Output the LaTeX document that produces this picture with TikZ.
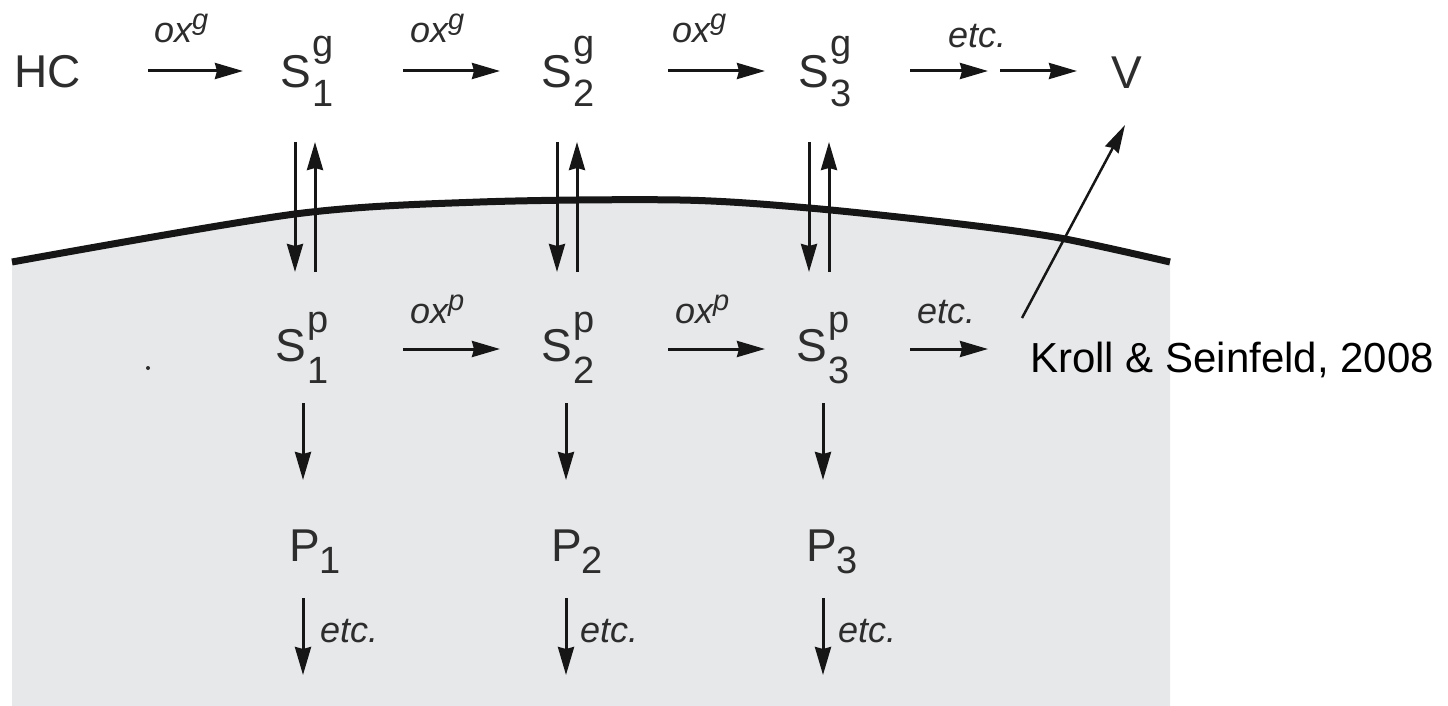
\documentclass[tikz,border=0pt]{standalone}
\usepackage{fontspec}
\setmainfont{Liberation Sans}
\usetikzlibrary{arrows.meta}
\definecolor{paper}{RGB}{231,232,234}
\definecolor{ink}{RGB}{45,45,45}
\definecolor{inkdark}{RGB}{22,22,22}
\newcommand\bigf{\fontsize{46pt}{46pt}\selectfont}
\newcommand\smallf{\fontsize{38pt}{38pt}\selectfont}
\newcommand\labf{\fontsize{36pt}{36pt}\selectfont\itshape}
\newcommand\suplabf{\fontsize{29pt}{29pt}\selectfont\itshape}
% #1 main letter, #2 sup, #3 sub, #4 kern, #5 raise, #6 lower
\newcommand\spsb[6]{#1\kern#4\rlap{\raisebox{#5}{\smallf #2}}\raisebox{-#6}{\smallf #3}}
\newcommand\oxlab[1]{ox\raisebox{13pt}{\suplabf #1}}
\begin{document}
\begin{tikzpicture}[x=1pt,y=-1pt,
  arr/.style={draw=inkdark, line width=3pt, -{Stealth[length=28pt,width=16pt,inset=2pt]}},
  txt/.style={anchor=base west, inner sep=0pt, outer sep=0pt, text=ink, font=\bigf},
  lab/.style={anchor=base west, inner sep=0pt, outer sep=0pt, text=ink, font=\labf}]
\useasboundingbox (0,0) rectangle (1448,706);
% particle phase
\fill[paper] (12,706) -- plot[smooth,tension=0.5] coordinates {(12,262) (295,214) (480,202) (680,200) (809,208) (960,224) (1060,238) (1170,262)} -- (1170,706) -- cycle;
\draw[inkdark, line width=7pt] plot[smooth,tension=0.5] coordinates {(12,262) (295,214) (480,202) (680,200) (809,208) (960,224) (1060,238) (1170,262)};
\fill[ink] (148,368) circle (2pt);

% gas row
\node[txt] (hc) at (14.5,88) {HC};
\node[txt] (s1g) at (280,88) {\spsb{S}{g}{1}{2pt}{31pt}{19pt}};
\node[txt] (s2g) at (541,88) {\spsb{S}{g}{2}{2pt}{31pt}{19pt}};
\node[txt] (s3g) at (798,88) {\spsb{S}{g}{3}{2pt}{31pt}{19pt}};
\node[txt] (v) at (1111,89) {V};

\coordinate (g1a) at (148,71); \coordinate (g1b) at (243,71);
\coordinate (g2a) at (403,71); \coordinate (g2b) at (500,71);
\coordinate (g3a) at (668,71); \coordinate (g3b) at (765,71);
\coordinate (g4a) at (910,71); \coordinate (g4b) at (988,71);
\coordinate (g5a) at (1000,71); \coordinate (g5b) at (1077,71);
\draw[arr] (g1a) -- (g1b);
\draw[arr] (g2a) -- (g2b);
\draw[arr] (g3a) -- (g3b);
\draw[arr] (g4a) -- (g4b);
\draw[arr] (g5a) -- (g5b);
\node[lab] (lg1) at (154,43) {\oxlab{g}};
\node[lab] (lg2) at (410,43) {\oxlab{g}};
\node[lab] (lg3) at (672,43) {\oxlab{g}};
\node[lab] (lg4) at (948,48) {etc.};

% partitioning
\foreach \d/\u [count=\i] in {295/315, 557/577, 809/829}{
  \coordinate (dt\i) at (\d,142); \coordinate (db\i) at (\d,272);
  \coordinate (ub\i) at (\u,272); \coordinate (ut\i) at (\u,142);
  \draw[arr] (dt\i) -- (db\i);
  \draw[arr] (ub\i) -- (ut\i);
}

% particle row
\node[txt] (s1p) at (275,361) {\spsb{S}{p}{1}{2pt}{29pt}{22pt}};
\node[txt] (s2p) at (541,361) {\spsb{S}{p}{2}{2pt}{29pt}{22pt}};
\node[txt] (s3p) at (796,361) {\spsb{S}{p}{3}{2pt}{29pt}{22pt}};
\coordinate (p1a) at (403,349); \coordinate (p1b) at (500,349);
\coordinate (p2a) at (668,349); \coordinate (p2b) at (765,349);
\coordinate (p3a) at (910,349); \coordinate (p3b) at (988,349);
\draw[arr] (p1a) -- (p1b);
\draw[arr] (p2a) -- (p2b);
\draw[arr] (p3a) -- (p3b);
\node[lab] (lp1) at (410,323) {\oxlab{p}};
\node[lab] (lp2) at (675,323) {\oxlab{p}};
\node[lab] (lp3) at (917,323) {etc.};

% volatilisation
\coordinate (va) at (1022,318); \coordinate (vb) at (1125,125);
\draw[draw=inkdark, line width=2.5pt, -{Stealth[length=28pt,width=15pt,inset=2pt]}] (va) -- (vb);
\node[anchor=base west, inner sep=0pt, text=black, font=\fontsize{42pt}{42pt}\selectfont] (src) at (1030,372) {Kroll \& Seinfeld, 2008};

% products
\node[txt] (pp1) at (289,561) {P\kern0pt\raisebox{-12pt}{\smallf 1}};
\node[txt] (pp2) at (551,561) {P\kern0pt\raisebox{-12pt}{\smallf 2}};
\node[txt] (pp3) at (806,561) {P\kern0pt\raisebox{-12pt}{\smallf 3}};
\foreach \x/\lx [count=\i] in {303/320, 566/580, 823/838}{
  \coordinate (sa\i) at (\x,403); \coordinate (sb\i) at (\x,480);
  \draw[arr] (sa\i) -- (sb\i);
  \coordinate (ea\i) at (\x,598); \coordinate (eb\i) at (\x,675);
  \draw[arr] (ea\i) -- (eb\i);
  \node[lab] (le\i) at (\lx,642) {etc.};
}
\end{tikzpicture}
\end{document}
